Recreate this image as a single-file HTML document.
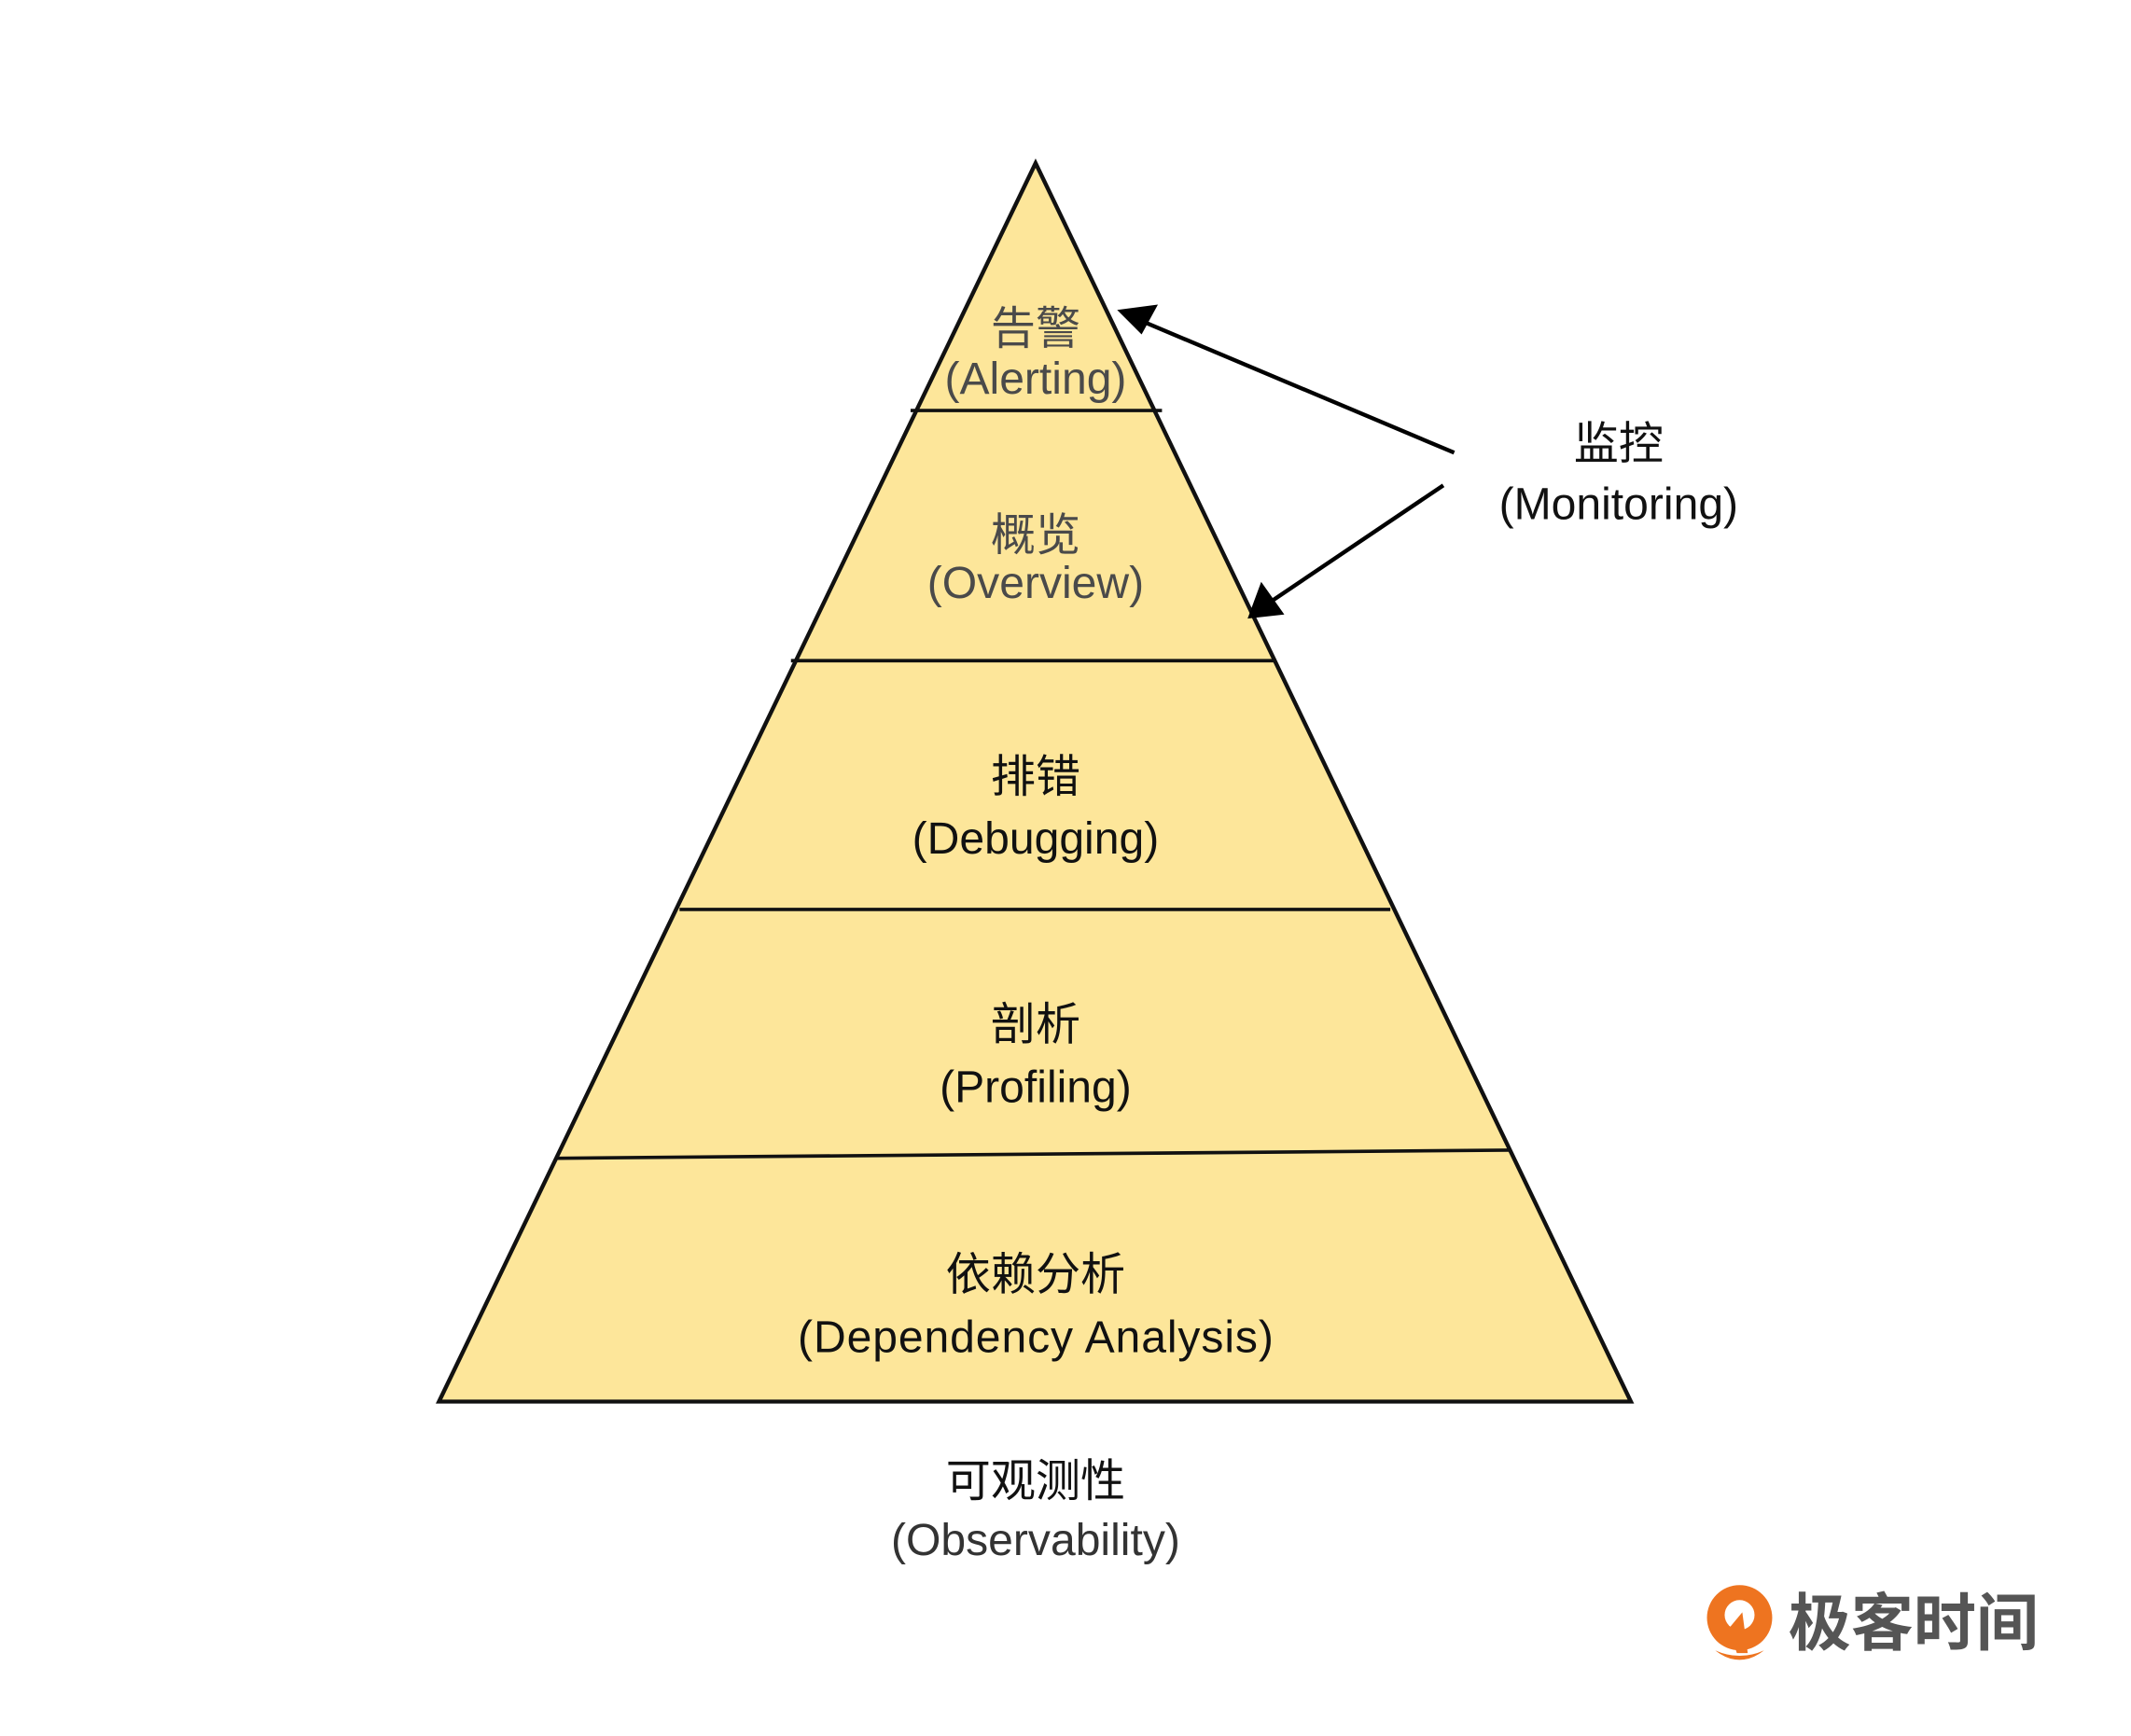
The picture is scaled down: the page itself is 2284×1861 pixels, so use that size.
<!DOCTYPE html>
<html><head><meta charset="utf-8"><style>
html,body{margin:0;padding:0;background:#fff;}
svg{display:block;}
text{font-family:"Liberation Sans","Noto Sans CJK SC",sans-serif;text-anchor:middle;dominant-baseline:middle;}
</style></head><body>
<svg width="2284" height="1861" viewBox="0 0 1568 1277" preserveAspectRatio="none" xmlns="http://www.w3.org/2000/svg">
<polygon points="762,120 323,1031 1200,1031" fill="#fde69a" stroke="#111" stroke-width="3" stroke-linejoin="miter"/>
<line x1="670" y1="302" x2="855" y2="302" stroke="#111" stroke-width="2.5"/>
<line x1="582" y1="486" x2="939" y2="486" stroke="#111" stroke-width="2.5"/>
<line x1="500" y1="669" x2="1023" y2="669" stroke="#111" stroke-width="2.5"/>
<line x1="410" y1="852" x2="1111" y2="846" stroke="#111" stroke-width="2.5"/>

<g font-size="33" transform="translate(0,3)">
<text x="762" y="241" fill="#4a4a4a">告警</text>
<text x="762" y="278" fill="#4a4a4a">(Alerting)</text>
<text x="762" y="393" fill="#4a4a4a">概览</text>
<text x="762" y="428" fill="#4a4a4a">(Overview)</text>
<text x="762" y="571" fill="#111">排错</text>
<text x="762" y="616" fill="#111">(Debugging)</text>
<text x="762" y="753" fill="#111">剖析</text>
<text x="762" y="799" fill="#111">(Profiling)</text>
<text x="762" y="937" fill="#111">依赖分析</text>
<text x="762" y="983" fill="#111" textLength="350">(Dependency Analysis)</text>
<text x="762" y="1089" fill="#111">可观测性</text>
<text x="762" y="1132" fill="#333">(Observability)</text>
<text x="1191" y="326" fill="#111">监控</text>
<text x="1191" y="370" fill="#111">(Monitoring)</text>
</g>

<line x1="1070" y1="333" x2="835" y2="234" stroke="#000" stroke-width="3"/>
<polygon points="822,228 852,224 840,246" fill="#000"/>
<line x1="1062" y1="357" x2="930" y2="446" stroke="#000" stroke-width="3"/>
<polygon points="918,455 928,428 945,452" fill="#000"/>

<g transform="translate(1280,1194)">
<circle cx="0" cy="-4" r="24" fill="#ee7420"/>
<circle cx="0" cy="-6" r="11" fill="#fff"/>
<polygon points="-8,4 2,-8 6,22 -2,22" fill="#ee7420"/>
<path d="M-18,20 Q0,34 18,20 Q0,28 -18,20 Z" fill="#ee7420"/>
</g>
<text x="1408" y="1198" font-size="46" fill="#555" font-weight="bold">极客时间</text>
</svg>
</body></html>
